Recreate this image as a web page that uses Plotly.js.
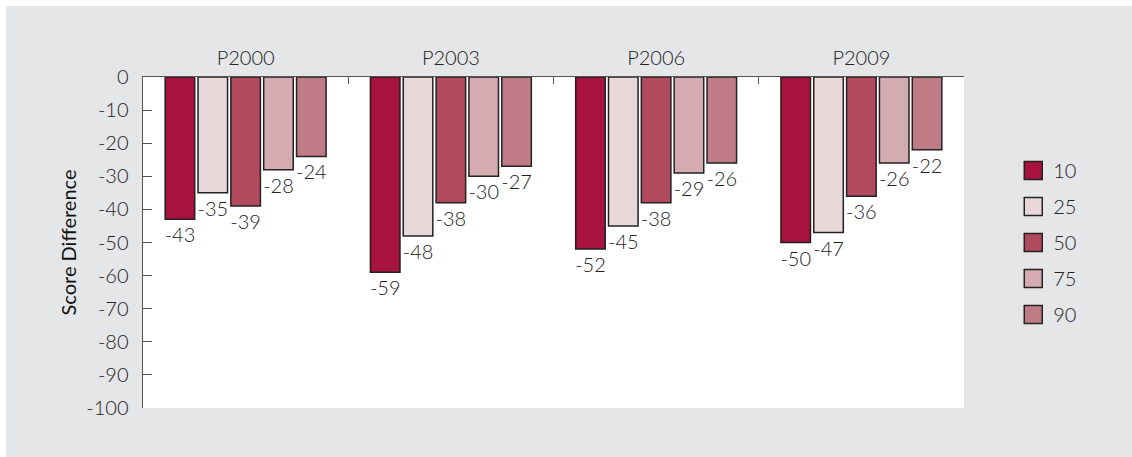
<!DOCTYPE html>
<html>
<head>
<meta charset="utf-8">
<script src="https://cdn.plot.ly/plotly-3.0.1.min.js"></script>
<style>
  html, body { margin: 0; padding: 0; background: #ffffff; }
  #chart { position: absolute; left: 6px; top: 6px; width: 1126px; height: 451px; }
</style>
</head>
<body>
<div id="chart"></div>
<script>
const categories = ["P2000", "P2003", "P2006", "P2009"];
const seriesNames = ["10", "25", "50", "75", "90"];
const values10 = [-43, -59, -52, -50];
const values25 = [-35, -48, -45, -47];
const values50 = [-39, -38, -38, -36];
const values75 = [-28, -30, -29, -26];
const values90 = [-24, -27, -26, -22];
const seriesValues = [values10, values25, values50, values75, values90];
const yTickVals = [0, -10, -20, -30, -40, -50, -60, -70, -80, -90, -100];
const yTickLabels = ["0", "-10", "-20", "-30", "-40", "-50", "-60", "-70", "-80", "-90", "-100"];
const colors = ["#a8123e", "#e8d8da", "#b04a5c", "#d4abb1", "#c07c86"];

const FONT = "Lato, 'Open Sans', sans-serif";
const TXT = "#222222";
const FS = 20;

const traces = seriesNames.map((name, i) => ({
  type: "bar",
  name: name,
  x: categories,
  y: seriesValues[i],
  text: seriesValues[i].map(v => String(v)),
  textposition: "outside",
  constraintext: "none",
  cliponaxis: false,
  textfont: { family: FONT, size: FS, color: TXT, weight: 300 },
  marker: { color: colors[i], line: { color: "#222222", width: 1.5 } },
  legendgroup: "g" + i,
  hoverinfo: "skip"
}));

const layout = {
  width: 1126,
  height: 451,
  paper_bgcolor: "#e5e6e8",
  plot_bgcolor: "#ffffff",
  margin: { l: 137, r: 168, t: 71, b: 49 },
  font: { family: FONT, size: FS, color: TXT, weight: 300 },
  barmode: "group",
  bargap: 0.2,
  bargroupgap: 0.1,
  showlegend: true,
  legend: {
    x: 1.06, xanchor: "left",
    y: 0.5, yanchor: "middle",
    bgcolor: "rgba(0,0,0,0)",
    font: { family: FONT, size: FS, color: TXT, weight: 300 },
    tracegroupgap: 7,
    itemwidth: 30
  },
  xaxis: {
    side: "top",
    type: "category",
    showline: true,
    linecolor: "#555555",
    linewidth: 1.5,
    ticks: "inside",
    tickson: "boundaries",
    ticklen: 7,
    tickcolor: "#555555",
    tickwidth: 1,
    showgrid: false,
    zeroline: false,
    tickfont: { family: FONT, size: FS, color: TXT, weight: 300 },
    ticklabelstandoff: 3,
    fixedrange: true
  },
  yaxis: {
    range: [-100, 0],
    tickmode: "array",
    tickvals: yTickVals,
    ticktext: yTickLabels,
    showline: true,
    linecolor: "#555555",
    linewidth: 1.5,
    ticks: "inside",
    ticklen: 9,
    tickcolor: "#555555",
    tickwidth: 1,
    showgrid: false,
    zeroline: false,
    tickfont: { family: FONT, size: FS, color: TXT, weight: 300 },
    ticklabelstandoff: 9,
    title: { text: "Score Difference", font: { family: FONT, size: FS, color: "#111111", weight: 400 }, standoff: 4 },
    fixedrange: true
  }
};

Plotly.newPlot("chart", traces, layout, { displayModeBar: false, staticPlot: true }).then(gd => {
  // enlarge the legend swatches to match the reference's larger squares
  gd.querySelectorAll(".legendpoints path").forEach(p => {
    p.setAttribute("d", "M9,9H-9V-9H9Z");
  });
});
</script>
</body>
</html>
